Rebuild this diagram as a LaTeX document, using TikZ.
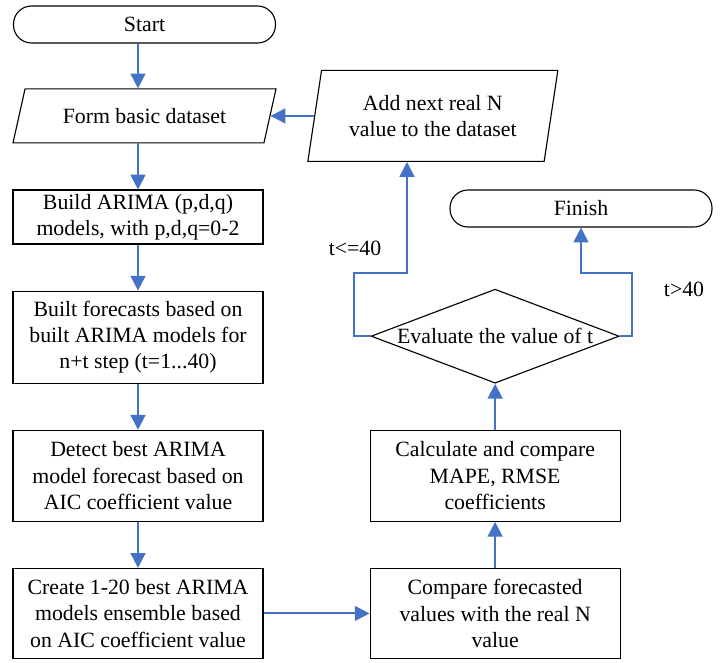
\documentclass[tikz,border=0pt]{standalone}
\usepackage{fontspec}
\setmainfont{Liberation Serif}
\usepackage{tikz}
\usetikzlibrary{arrows.meta,positioning,shapes.geometric}
\definecolor{flowblue}{HTML}{4472C4}

\begin{document}
\begin{tikzpicture}[
  font=\fontsize{15.5}{18.8}\selectfont,
  box/.style={draw, line width=0.8pt, minimum width=6.25cm, align=center, inner sep=2pt},
  term/.style={draw, line width=0.8pt, rounded corners=0.45cm, minimum width=6.55cm, minimum height=0.925cm},
  io/.style={draw, line width=0.8pt, trapezium, trapezium stretches body, align=center},
  dec/.style={draw, line width=0.8pt, diamond, minimum width=6.2cm, minimum height=2.35cm, inner sep=0pt},
  arr/.style={-{Triangle[length=10.5pt,width=10.5pt]}, line width=1.4pt, flowblue},
]
\useasboundingbox (0,0) rectangle (18.025,-16.55);

% left column
\node[term] (start) at (3.6125,-0.6125) {Start};
\node[io, trapezium left angle=64, trapezium right angle=116, minimum width=6.575cm, minimum height=1.35cm, below=1.12cm of start] (form) {Form basic dataset};
\node[box, minimum height=1.35cm, below=1.15cm of form, xshift=-0.1625cm] (build) {Build ARIMA (p,d,q)\\models, with p,d,q=0-2};
\node[box, minimum height=2.3cm, below=1.15cm of build] (forecasts) {Built forecasts based on\\built ARIMA models for\\n+t step (t=1...40)};
\node[box, minimum height=2.275cm, below=1.15cm of forecasts] (detect) {Detect best ARIMA\\model forecast based on\\AIC coefficient value};
\node[box, minimum height=2.25cm, below=1.15cm of detect] (create) {Create 1-20 best ARIMA\\models ensemble based\\on AIC coefficient value};

% right column
\node[box, minimum height=2.25cm, right=2.65cm of create] (compare) {Compare forecasted\\values with the real N\\value};
\node[box, minimum height=2.275cm, above=1.15cm of compare] (calc) {Calculate and compare\\MAPE, RMSE\\coefficients};
\node[dec, above=1.15cm of calc, label=center:{Evaluate the value of t}] (eval) {};
\node[io, trapezium left angle=75, trapezium right angle=105, minimum width=6.25cm, minimum height=2.275cm, right=1.09cm of form] (add) {Add next real N\\value to the dataset};
\node[term] (finish) at (14.525,-5.2125) {Finish};

\node (le) at (8.875,-6.2) {t<=40};
\node (gt) at (17.1,-7.225) {t>40};

\coordinate (lj) at (10.175,-6.825);
\coordinate (rj) at (14.525,-6.825);

\draw[arr] (start.south -| build) -- (form.north -| build);
\draw[arr] (form.south -| build) -- (build);
\draw[arr] (build) -- (forecasts);
\draw[arr] (forecasts) -- (detect);
\draw[arr] (detect) -- (create);
\draw[arr] (create) -- (compare);
\draw[arr] (compare) -- (calc);
\draw[arr] (calc) -- (eval);
\draw[arr] (eval.west) -- ++(-0.425,0) |- (lj) -- (lj |- add.south);
\draw[arr] (eval.east) -- ++(0.3,0) |- (rj) -- (finish);
\draw[arr] (add.west) -- (add.west -| form.east);
\end{tikzpicture}
\end{document}
